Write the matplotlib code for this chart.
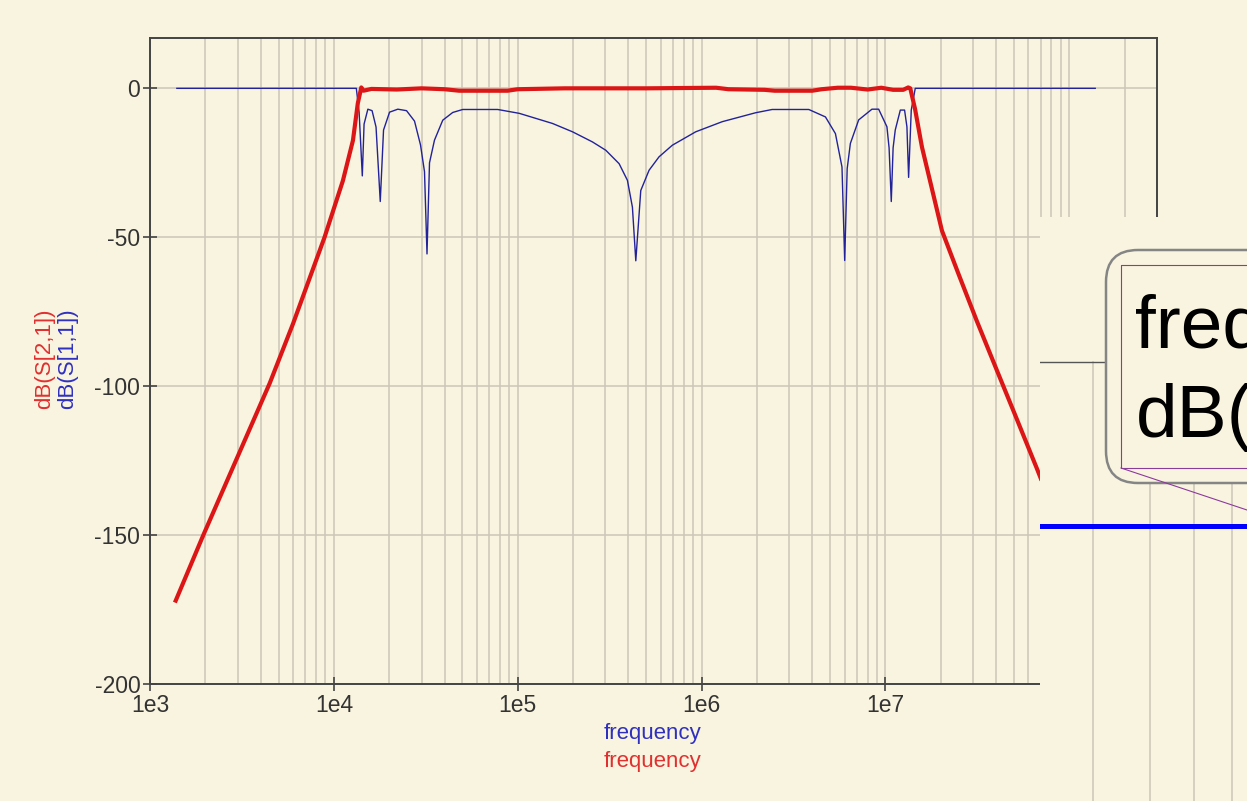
import numpy as np
import matplotlib
matplotlib.use("Agg")
import matplotlib.pyplot as plt
from matplotlib.patches import FancyBboxPatch, Rectangle
from matplotlib.ticker import LogLocator, FuncFormatter

plt.rcParams['font.family'] = ['Liberation Sans', 'DejaVu Sans']
plt.rcParams['axes.unicode_minus'] = False

# dB(S[1,1])
s11_freq = [1.40e3, 1.325e4, 1.372e4, 1.428e4, 1.460e4, 1.531e4, 1.614e4, 1.696e4,
            1.788e4, 1.863e4, 2.009e4, 2.228e4, 2.485e4, 2.746e4, 2.960e4, 3.112e4,
            3.211e4, 3.313e4, 3.526e4, 3.911e4, 4.433e4, 5.023e4, 7.78e4, 1.020e5,
            1.547e5, 1.987e5, 2.551e5, 3.015e5, 3.561e5, 3.952e5, 4.206e5, 4.388e5,
            4.670e5, 5.182e5, 5.870e5, 6.934e5, 9.290e5, 1.295e6, 1.967e6, 2.421e6,
            3.830e6, 4.718e6, 5.346e6, 5.804e6, 6.004e6, 6.194e6, 6.447e6, 7.153e6,
            8.448e6, 9.186e6, 1.019e7, 1.047e7, 1.076e7, 1.101e7, 1.131e7, 1.205e7,
            1.271e7, 1.309e7, 1.337e7, 1.382e7, 1.453e7, 1.384e8]
s11_db = [0, 0, -8, -29.4, -12, -7.0, -7.5, -13,
          -38, -14, -8, -7.0, -7.5, -11, -19, -28,
          -55.6, -25, -17.4, -10.7, -8.1, -7.1, -7.1, -8.4,
          -11.8, -14.6, -18, -20.8, -25.3, -30.9, -39.9, -57.9,
          -34.3, -27.5, -23, -19.1, -14.6, -11.2, -8.2, -7.1,
          -7.1, -9.6, -15.2, -26.4, -57.8, -27, -18.5, -10.6,
          -7.0, -7.0, -12.9, -20, -38, -20, -14, -7.3,
          -7.3, -12.9, -29.9, -7.3, 0, 0]

# dB(S[2,1])
s21_freq = [1.38e3, 1.95e3, 4.48e3, 6.0e3, 8.9e3, 1.12e4, 1.27e4, 1.35e4, 1.41e4,
            1.45e4, 1.6e4, 2.2e4, 3.0e4, 4.0e4, 4.8e4, 8.8e4, 1.0e5, 1.8e5, 5.0e5,
            1.2e6, 1.4e6, 2.2e6, 2.5e6, 4.0e6, 4.5e6, 5.5e6, 6.5e6, 8.0e6, 9.5e6,
            1.1e7, 1.25e7, 1.33e7, 1.365e7, 1.45e7, 1.58e7, 2.03e7, 2.5e7, 3.14e7,
            4.12e7, 5.07e7, 6.65e7, 7.0e7]
s21_db = [-172, -150, -99, -79, -50, -31, -17.5, -5, 0.3,
          -0.8, -0.2, -0.4, 0, -0.3, -0.8, -0.8, -0.3, 0, 0,
          0.2, -0.3, -0.5, -0.8, -0.8, -0.3, 0.2, 0.2, -0.4, 0.2,
          -0.5, -0.5, 0.3, 0, -7, -19.7, -47.8, -62.4, -78.1,
          -96, -109.6, -127.5, -131]

y_ticks = [0, -50, -100, -150, -200]

W, H = 1247, 801
bg = '#f9f4df'
gridc = '#cbc6b6'

fig = plt.figure(figsize=(W / 100, H / 100), dpi=100, facecolor=bg)
ax = fig.add_axes([150 / W, 1 - 684 / H, (1157 - 150) / W, (684 - 38) / H], facecolor=bg)

ax.plot(s11_freq, s11_db, color='#22229a', lw=1.0, zorder=3)
ax.plot(s21_freq, s21_db, color='#dc1616', lw=3.0, zorder=4)

ax.set_xscale('log')
ax.set_xlim(1e3, 3e8)
ax.set_ylim(-200, 16.9)
ax.set_yticks(y_ticks)
ax.xaxis.set_major_locator(LogLocator(base=10, numticks=20))
ax.xaxis.set_minor_locator(LogLocator(base=10, subs=np.arange(2, 10), numticks=20))
ax.xaxis.set_major_formatter(FuncFormatter(lambda v, p: '1e%d' % round(np.log10(v))))
ax.xaxis.set_minor_formatter(FuncFormatter(lambda v, p: ''))
ax.grid(True, which='both', axis='x', color=gridc, lw=1.1)
ax.grid(True, which='major', axis='y', color=gridc, lw=1.1)
ax.set_axisbelow(True)
ax.tick_params(which='major', direction='inout', length=10, width=1.2, color='#444444',
               labelsize=16.5, labelcolor='#333333', pad=2)
ax.tick_params(which='minor', length=0)
for s in ax.spines.values():
    s.set_color('#444444')
    s.set_linewidth(1.4)

# axis titles
fig.text(45 / W, 1 - 359 / H, 'dB(S[2,1])', color='#e03030', rotation=90,
         ha='center', va='center', fontsize=16)
fig.text(68 / W, 1 - 359 / H, 'dB(S[1,1])', color='#3030c0', rotation=90,
         ha='center', va='center', fontsize=16)
fig.text(652 / W, 1 - 733 / H, 'frequency', color='#3030c0', ha='center', va='center', fontsize=16)
fig.text(652 / W, 1 - 762 / H, 'frequency', color='#e03030', ha='center', va='center', fontsize=16)

# pasted-over panel on the right
ov = fig.add_axes([1040 / W, 0, 1 - 1040 / W, 1 - 217 / H], facecolor=bg, zorder=5)
ov.set_xlim(1040, 1247)
ov.set_ylim(801, 217)
ov.set_xticks([])
ov.set_yticks([])
for s in ov.spines.values():
    s.set_visible(False)
ov.plot([1092.5, 1092.5], [362, 801], color=gridc, lw=1.1)
for gx in [1150, 1194, 1232]:
    ov.plot([gx, gx], [470, 801], color=gridc, lw=1.1)
ov.plot([1040, 1121], [362, 362], color='#555555', lw=1.0)
ov.add_patch(FancyBboxPatch((1106, 250), 220, 233, boxstyle='round,pad=0,rounding_size=32',
                            fc=bg, ec='#858585', lw=1.8, zorder=3))
ov.add_patch(Rectangle((1121, 265), 220, 203, fill=False, ec='#8a3c9a', lw=0.8, zorder=4))
ov.plot([1121, 1247], [468, 510], color='#8a3c9a', lw=0.8, zorder=4)
ov.plot([1040, 1247], [525.5, 525.5], color='#0000ff', lw=3.6, zorder=4)
ov.text(1135, 348, 'freq', fontsize=54, color='black', va='baseline', ha='left', zorder=5)
ov.text(1136, 437, 'dB(', fontsize=54, color='black', va='baseline', ha='left', zorder=5)

fig.savefig('out.png', dpi=100, facecolor=bg)
